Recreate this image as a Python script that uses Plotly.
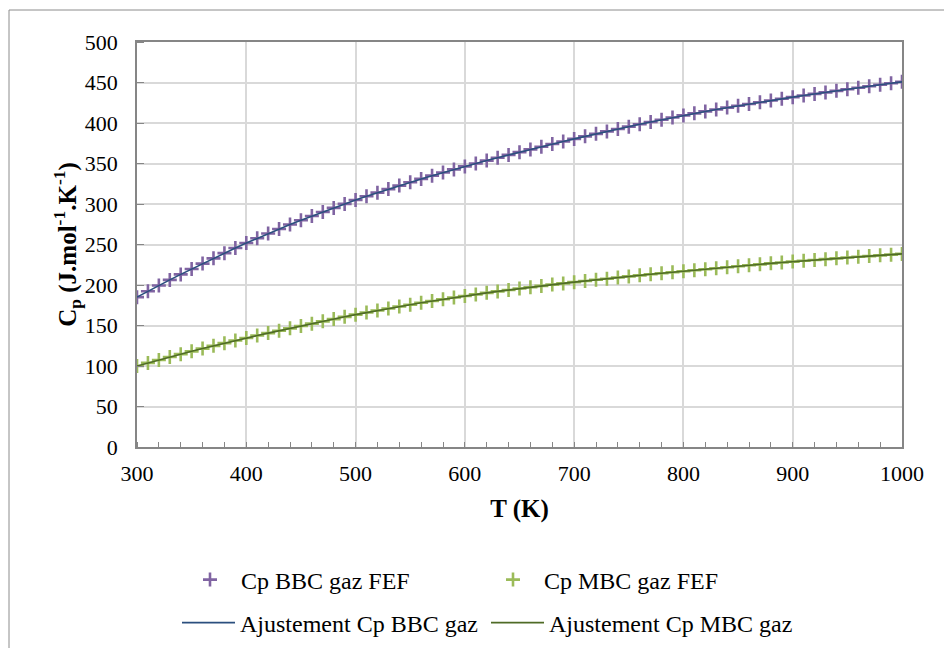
import plotly.graph_objects as go

T = list(range(300, 1001, 10))

cp_bbc = [185.0, 192.3, 199.4, 206.3, 213.1, 219.8, 226.4, 232.9, 239.3, 245.6, 251.8,
          257.7, 263.5, 269.1, 274.6, 279.9, 285.1, 290.2, 295.2, 300.1, 304.9,
          309.5, 314.0, 318.4, 322.7, 326.9, 331.0, 335.0, 338.9, 342.7, 346.4,
          350.0, 353.6, 357.1, 360.6, 364.0, 367.4, 370.7, 374.0, 377.2, 380.4,
          383.5, 386.6, 389.6, 392.6, 395.5, 398.4, 401.2, 404.0, 406.7, 409.4,
          411.9, 414.3, 416.7, 419.0, 421.3, 423.5, 425.7, 427.8, 429.9, 431.9,
          433.9, 435.9, 437.8, 439.7, 441.6, 443.5, 445.4, 447.2, 449.0, 450.8]

cp_mbc = [100.0, 103.8, 107.5, 111.1, 114.6, 118.1, 121.5, 124.9, 128.2, 131.4, 134.5,
          137.6, 140.6, 143.6, 146.5, 149.4, 152.3, 155.1, 157.9, 160.7, 163.4,
          166.0, 168.5, 171.0, 173.4, 175.7, 178.0, 180.2, 182.4, 184.5, 186.5,
          188.4, 190.3, 192.1, 193.9, 195.6, 197.3, 198.9, 200.5, 202.0, 203.5,
          205.0, 206.4, 207.8, 209.2, 210.6, 211.9, 213.2, 214.5, 215.8, 217.0,
          218.3, 219.5, 220.7, 221.9, 223.1, 224.3, 225.5, 226.7, 227.8, 228.9,
          229.9, 230.9, 231.9, 232.9, 233.9, 234.8, 235.7, 236.6, 237.5, 238.4]

fit_bbc = cp_bbc
fit_mbc = cp_mbc

x_ticks = [300, 400, 500, 600, 700, 800, 900, 1000]
y_ticks = [0, 50, 100, 150, 200, 250, 300, 350, 400, 450, 500]

FONT = "Liberation Serif, Times New Roman, serif"
AXIS_GREY = "#868686"

fig = go.Figure()
fig.add_trace(go.Scatter(x=T, y=cp_bbc, mode="markers", name="Cp BBC gaz FEF",
                         marker=dict(symbol="cross-thin", size=10, color="#8064A2",
                                     line=dict(color="#8064A2", width=2.6)),
                         legend="legend"))
fig.add_trace(go.Scatter(x=T, y=cp_mbc, mode="markers", name="Cp MBC gaz FEF",
                         marker=dict(symbol="cross-thin", size=10, color="#9BBB59",
                                     line=dict(color="#9BBB59", width=2.6)),
                         legend="legend"))
fig.add_trace(go.Scatter(x=T, y=fit_bbc, mode="lines", name="Ajustement Cp BBC gaz",
                         line=dict(color="#2B4F7E", width=1.6), legend="legend2"))
fig.add_trace(go.Scatter(x=T, y=fit_mbc, mode="lines", name="Ajustement Cp MBC gaz",
                         line=dict(color="#4F6B26", width=1.6), legend="legend2"))

L, R, TOP, B = 137, 42, 42, 201
W, H = 944 - L - R, 648 - TOP - B

def px(x):
    return (x - L) / W

def py(y):
    return (648 - B - y) / H

fig.update_layout(
    width=944, height=648,
    margin=dict(l=L, r=R, t=TOP, b=B, autoexpand=False),
    paper_bgcolor="white", plot_bgcolor="white",
    font=dict(family=FONT, size=22, color="black"),
    showlegend=True,
    legend=dict(orientation="h", x=px(179), y=py(580), xanchor="left", yanchor="middle",
                entrywidth=236, entrywidthmode="pixels", itemwidth=52,
                font=dict(family=FONT, size=24, color="black"), bgcolor="rgba(0,0,0,0)"),
    legend2=dict(orientation="h", x=px(177), y=py(623), xanchor="left", yanchor="middle",
                 entrywidth=241, entrywidthmode="pixels", itemwidth=53,
                 font=dict(family=FONT, size=24, color="black"), bgcolor="rgba(0,0,0,0)"),
    shapes=[dict(type="rect", xref="paper", yref="paper",
                 x0=px(9), x1=px(960), y0=py(10), y1=py(670),
                 line=dict(color="#8C8C8C", width=1), fillcolor="rgba(0,0,0,0)", layer="below")],
)

fig.update_xaxes(range=[300, 1000], tickvals=x_ticks, ticktext=[str(v) for v in x_ticks],
                 showgrid=True, gridcolor="#D9D9D9", gridwidth=1.5,
                 showline=True, linecolor=AXIS_GREY, linewidth=1.5, mirror=True,
                 ticks="outside", ticklen=6, tickcolor="rgba(0,0,0,0)",
                 minor=dict(ticks="inside", dtick=20, tick0=300, ticklen=5, tickcolor=AXIS_GREY,
                            tickwidth=1, showgrid=False),
                 zeroline=False,
                 tickfont=dict(family=FONT, size=22, color="black"),
                 title=dict(text="<b>T (K)</b>", font=dict(family=FONT, size=25, color="black"), standoff=14))
fig.update_yaxes(range=[0, 500], tickvals=y_ticks, ticktext=[str(v) for v in y_ticks],
                 showgrid=True, gridcolor="#D9D9D9", gridwidth=1.5,
                 showline=True, linecolor=AXIS_GREY, linewidth=1.5, mirror=True,
                 ticks="outside", ticklen=13, tickcolor="rgba(0,0,0,0)",
                 minor=dict(ticks="inside", dtick=50, tick0=0, ticklen=7, tickcolor=AXIS_GREY,
                            tickwidth=1, showgrid=False),
                 zeroline=False,
                 tickfont=dict(family=FONT, size=22, color="black"),
                 title=dict(text="<b>C<sub>p</sub> (J.mol<sup>-1</sup>.K<sup>-1</sup>)</b>",
                            font=dict(family=FONT, size=25, color="black"), standoff=0))

fig.write_html("out.html", config={"displayModeBar": False},
               post_script="document.body.style.margin='0';document.body.style.overflow='hidden';")
